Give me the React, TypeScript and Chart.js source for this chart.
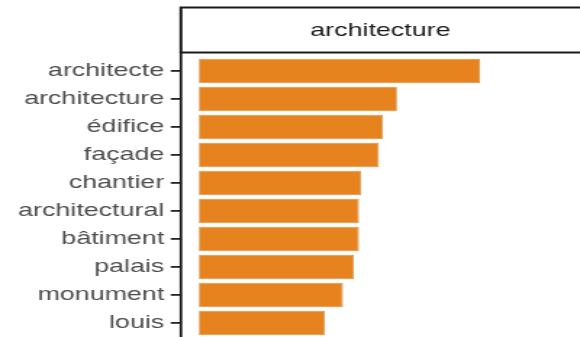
import React, { useEffect, useRef } from "react";
import { Chart, registerables } from "chart.js";

Chart.register(...registerables);

// ---- data ----
const categories = [
  "architecte",
  "architecture",
  "édifice",
  "façade",
  "chantier",
  "architectural",
  "bâtiment",
  "palais",
  "monument",
  "louis",
];
const values = [281, 198, 184, 180, 162, 160, 160, 155, 144, 126];
const panelTitle = "architecture";
const xMin = -18;
const xMax = 381;

// ---- layout (canvas is drawn at W and shown stretched to DISPLAY_W) ----
const W = 400;
const H = 337;
const DISPLAY_W = 580;
const AXIS_LEFT = 124.8;
const STRIP_TOP = 7.5;
const STRIP_BOTTOM = 52.5;
const FONT = '"Liberation Sans", Arial, Helvetica, sans-serif';

const stripPlugin = {
  id: "stripPlugin",
  afterDraw(chart: any) {
    const ctx = chart.ctx as CanvasRenderingContext2D;
    const area = chart.chartArea;
    ctx.save();
    // strip box
    ctx.fillStyle = "#ffffff";
    ctx.fillRect(area.left, STRIP_TOP, W + 10 - area.left, STRIP_BOTTOM - STRIP_TOP);
    ctx.strokeStyle = "#1a1a1a";
    ctx.lineWidth = 2;
    ctx.strokeRect(area.left, STRIP_TOP, W + 10 - area.left, STRIP_BOTTOM - STRIP_TOP);
    // strip label
    ctx.fillStyle = "#1a1a1a";
    ctx.font = `18.5px ${FONT}`;
    ctx.textAlign = "center";
    ctx.textBaseline = "middle";
    ctx.fillText(panelTitle, (area.left + W) / 2, 31);
    // left axis line
    ctx.beginPath();
    ctx.moveTo(area.left, STRIP_BOTTOM);
    ctx.lineTo(area.left, H + 2);
    ctx.lineWidth = 1.8;
    ctx.strokeStyle = "#1a1a1a";
    ctx.stroke();
    ctx.restore();
  },
};

export default function App() {
  const ref = useRef<HTMLCanvasElement | null>(null);

  useEffect(() => {
    if (!ref.current) return;
    const chart = new Chart(ref.current, {
      type: "bar",
      data: {
        labels: categories,
        datasets: [
          {
            data: values,
            backgroundColor: "#E6831E",
            borderColor: "#D38731",
            borderWidth: 0.8,
            borderSkipped: false,
            categoryPercentage: 0.88,
            barPercentage: 1,
          },
        ],
      },
      options: {
        indexAxis: "y",
        animation: false,
        responsive: false,
        devicePixelRatio: 1,
        layout: { padding: { top: 57, left: 0, right: 0, bottom: 0 } },
        plugins: {
          legend: { display: false },
          tooltip: { enabled: false },
        },
        scales: {
          x: {
            type: "linear",
            display: false,
            min: xMin,
            max: xMax,
          },
          y: {
            type: "category",
            offset: true,
            border: { display: false },
            grid: {
              display: true,
              drawOnChartArea: false,
              drawTicks: true,
              tickLength: 7,
              color: "#222222",
              lineWidth: 1.8,
              offset: false,
            },
            ticks: {
              color: "#4d4d4d",
              font: { family: FONT, size: 18.5 },
              padding: 4.5,
              autoSkip: false,
            },
            afterFit: (s: any) => {
              s.width = AXIS_LEFT;
              s.paddingTop = 0;
              s.paddingBottom = 0;
            },
          },
        },
      },
      plugins: [stripPlugin],
    });
    return () => chart.destroy();
  }, []);

  return (
    <canvas
      ref={ref}
      width={W}
      height={H}
      style={{
        position: "fixed",
        left: 0,
        top: 0,
        width: DISPLAY_W + "px",
        height: H + "px",
        display: "block",
        background: "#ffffff",
      }}
    />
  );
}
